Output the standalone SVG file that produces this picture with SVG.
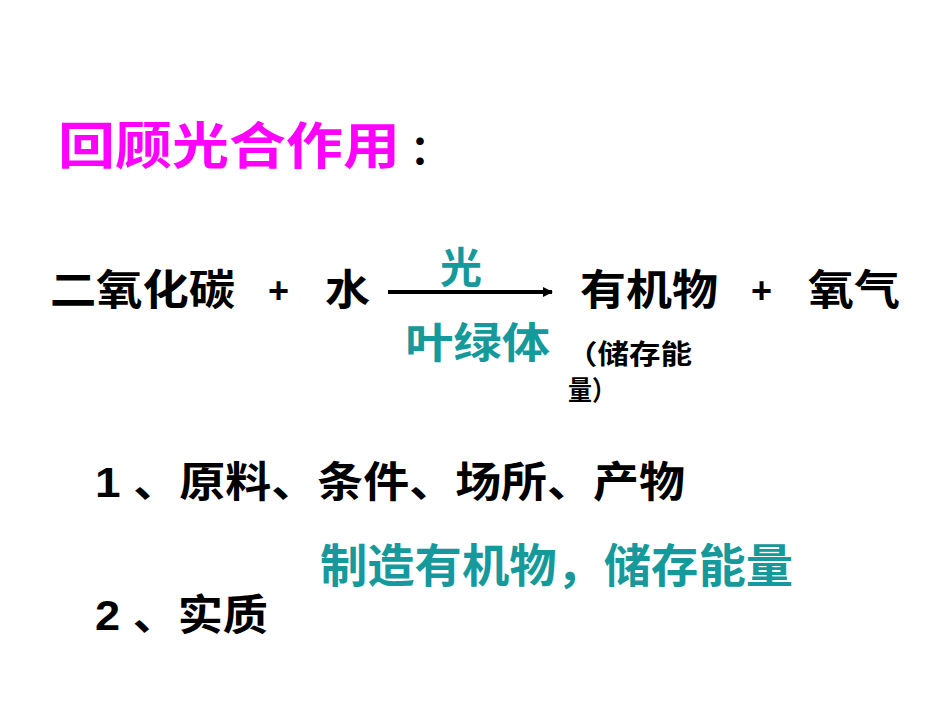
<svg xmlns="http://www.w3.org/2000/svg" width="950" height="713" viewBox="0 0 950 713">
<style>
text{font-family:"Liberation Sans","Noto Sans CJK SC",sans-serif;font-weight:bold;fill:#000}
.t{fill:#16999a}
</style>
<defs><marker id="a" markerWidth="10" markerHeight="10" refX="9" refY="5" orient="auto" markerUnits="userSpaceOnUse"><path d="M0,0 L10,5 L0,10 Z" fill="#000"/></marker></defs>
<rect width="950" height="713" fill="#fff"/>
<g id="title"><text x="58" y="164" font-size="50" textLength="342" lengthAdjust="spacingAndGlyphs" style="fill:#ff00ff">回顾光合作用</text><text x="410" y="164" font-size="40">：</text></g>
<g id="eq">
<text x="50" y="305" font-size="42" textLength="185" lengthAdjust="spacingAndGlyphs">二氧化碳</text>
<text x="268" y="303" font-size="36">+</text>
<text x="325" y="305" font-size="42" textLength="45" lengthAdjust="spacingAndGlyphs">水</text>
<text class="t" x="440" y="283" font-size="42" textLength="42" lengthAdjust="spacingAndGlyphs">光</text>
<text class="t" x="405" y="358" font-size="42" textLength="145" lengthAdjust="spacingAndGlyphs">叶绿体</text>
<text x="580" y="305" font-size="42" textLength="138" lengthAdjust="spacingAndGlyphs">有机物</text>
<text x="751" y="303" font-size="36">+</text>
<text x="808" y="305" font-size="42" textLength="92" lengthAdjust="spacingAndGlyphs">氧气</text>
<text x="566" y="364" font-size="27" textLength="126" lengthAdjust="spacingAndGlyphs">（储存能</text>
<text x="568" y="400" font-size="27" textLength="48" lengthAdjust="spacingAndGlyphs">量）</text>
</g>
<g id="connectors"><line x1="388" y1="292" x2="552" y2="292" stroke="#000" stroke-width="4" marker-end="url(#a)"/></g>
<g id="p1"><text x="95" y="497" font-size="42" textLength="590" lengthAdjust="spacingAndGlyphs">1 、原料、条件、场所、产物</text></g>
<g id="p2"><text class="t" x="320" y="582" font-size="46" textLength="473" lengthAdjust="spacingAndGlyphs">制造有机物，储存能量</text></g>
<g id="p3"><text x="95" y="630" font-size="42" textLength="173" lengthAdjust="spacingAndGlyphs">2 、实质</text></g>
</svg>
